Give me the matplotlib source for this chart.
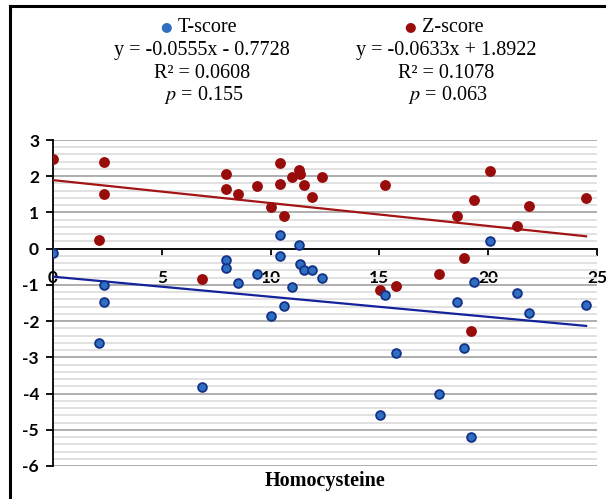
"""Scatter of T-score / Z-score against homocysteine with linear trend lines."""
import matplotlib
matplotlib.use("Agg")
import matplotlib.pyplot as plt
from matplotlib.lines import Line2D
from matplotlib.ticker import MultipleLocator
import numpy as np

plt.rcParams["mathtext.fontset"] = "stix"
plt.rcParams["axes.unicode_minus"] = False

# shared x values (homocysteine)
homocysteine = [0.0, 2.1, 2.35, 2.35, 6.87, 7.95, 7.95, 8.5, 9.38, 10.0,
                10.43, 10.43, 10.6, 10.98, 11.3, 11.35, 11.54, 11.88, 12.37,
                15.03, 15.27, 15.74, 17.76, 18.58, 18.87, 19.2, 19.36, 20.08,
                21.33, 21.86, 24.5]
t_score = [-0.12, -2.6, -1.01, -1.46, -3.82, -0.31, -0.52, -0.96, -0.69, -1.85,
           0.39, -0.21, -1.58, -1.05, 0.11, -0.42, -0.6, -0.6, -0.8,
           -4.6, -1.28, -2.88, -4.01, -1.48, -2.75, -5.21, -0.93, 0.22,
           -1.23, -1.77, -1.55]
z_score = [2.47, 0.23, 2.39, 1.5, -0.83, 2.06, 1.64, 1.5, 1.73, 1.14,
           2.36, 1.78, 0.89, 1.98, 2.17, 2.06, 1.75, 1.42, 1.98,
           -1.14, 1.75, -1.03, -0.71, 0.89, -0.26, -2.28, 1.33, 2.15,
           0.63, 1.17, 1.40]

# trend line coefficients as printed on the chart
slopes = [-0.0555, -0.0633]
intercepts = [-0.7728, 1.8922]
r_squared = ["0.0608", "0.1078"]
p_values = ["0.155", "0.063"]
series_names = ["T-score", "Z-score"]

W, H = 606, 499
fig = plt.figure(figsize=(W / 100, H / 100), dpi=100)
ax = fig.add_axes([53 / W, 1 - 466 / H, (597 - 53) / W, (466 - 140) / H])


def fx(px):
    return px / W


def fy(py):
    return 1 - py / H


blue_fill, blue_edge = "#2e6fc0", "#14318a"
red = "#980c0c"
blue_line, red_line = "#14239a", "#a31515"

xs = np.array([0, max(homocysteine)])
ax.plot(xs, intercepts[1] + slopes[1] * xs, color=red_line, lw=1.6, zorder=3)
ax.plot(xs, intercepts[0] + slopes[0] * xs, color=blue_line, lw=1.6, zorder=3)
ax.scatter(homocysteine, z_score, s=46, color=red, edgecolors=red, zorder=4)
ax.scatter(homocysteine, t_score, s=40, color=blue_fill, edgecolors=blue_edge,
           linewidths=1.3, zorder=4)

ax.set_xlim(0, 25)
ax.set_ylim(-6, 3)
ax.xaxis.set_major_locator(MultipleLocator(5))
ax.yaxis.set_major_locator(MultipleLocator(1))
ax.yaxis.set_minor_locator(MultipleLocator(0.2))
ax.grid(axis="y", which="major", color="#a8a8a8", lw=1.3, zorder=0)
ax.grid(axis="y", which="minor", color="#dedede", lw=1.3, zorder=0)
ax.set_axisbelow(True)

for s in ["top", "right"]:
    ax.spines[s].set_visible(False)
ax.spines["bottom"].set_position(("data", 0))
ax.spines["bottom"].set_color("black")
ax.spines["bottom"].set_linewidth(1.3)
ax.spines["left"].set_linewidth(1.3)
ax.tick_params(axis="y", which="minor", left=False)
ax.tick_params(axis="y", which="major", direction="out", length=5, width=1.3, pad=5)
ax.tick_params(axis="x", which="major", direction="out", length=5, width=1.3, pad=10)
for lab in ax.get_xticklabels() + ax.get_yticklabels():
    lab.set_fontfamily("Lato")
    lab.set_fontweight("bold")
    lab.set_fontsize(12.5)

fig.text(fx(325), fy(481), "Homocysteine", ha="center", va="center",
         family="Liberation Serif", weight="bold", fontsize=14.5)

# annotation blocks above the plot
colors = [blue_fill, red]
centers = [202, 446]
for i in range(2):
    cx = centers[i]
    fig.text(fx(cx - 36), fy(27), "\u25cf", color=colors[i], ha="center",
             va="center", fontsize=9.5, family="DejaVu Sans")
    fig.text(fx(cx - 24), fy(27), series_names[i], ha="left", va="center",
             family="Liberation Serif", fontsize=14.5)
    sign = "-" if intercepts[i] < 0 else "+"
    eq = f"y = {slopes[i]:.4f}x {sign} {abs(intercepts[i]):.4f}"
    fig.text(fx(cx), fy(51), eq, ha="center", va="center",
             family="Liberation Serif", fontsize=14.5)
    fig.text(fx(cx), fy(73), f"R\u00b2 = {r_squared[i]}", ha="center",
             va="center", family="Liberation Serif", fontsize=14.5)
    fig.text(fx(cx + 2), fy(95), f"$p$ = {p_values[i]}", ha="center",
             va="center", family="Liberation Serif", fontsize=14.5)

# frame lines (top and left edges of the cropped figure border)
fig.add_artist(Line2D([fx(10), 1], [fy(6), fy(6)], color="black", lw=2.2,
                      transform=fig.transFigure))
fig.add_artist(Line2D([fx(10), fx(10)], [fy(6), 0], color="black", lw=2.2,
                      transform=fig.transFigure))

fig.savefig("out.png", dpi=100)
